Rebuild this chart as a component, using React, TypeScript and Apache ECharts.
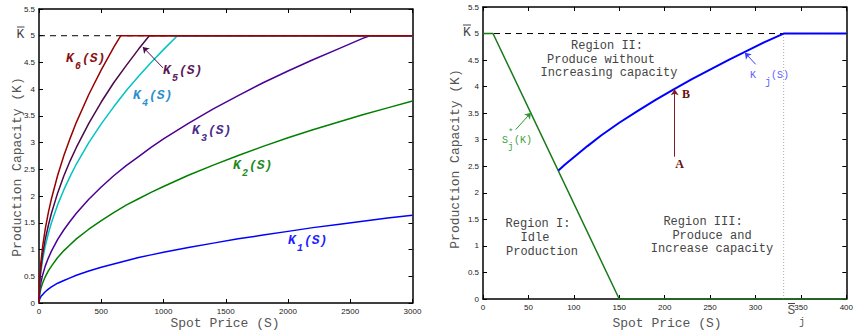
import React, { useEffect, useRef } from "react";
import * as echarts from "echarts";

// ---------- Left panel data ----------
const leftPrices = [0, 5, 15, 30, 50, 75, 100, 150, 200, 250, 300, 400, 500, 600, 700, 800, 900, 1000, 1200, 1400, 1600, 1800, 2000, 2200, 2400, 2600, 2800, 3000];
const k1Capacity = [0, 0.07, 0.12, 0.16, 0.21, 0.26, 0.30, 0.37, 0.42, 0.47, 0.52, 0.60, 0.67, 0.73, 0.79, 0.85, 0.90, 0.95, 1.04, 1.12, 1.20, 1.27, 1.34, 1.41, 1.47, 1.53, 1.59, 1.64];
const k2Capacity = [0, 0.15, 0.27, 0.38, 0.49, 0.60, 0.69, 0.85, 0.98, 1.09, 1.20, 1.38, 1.54, 1.69, 1.83, 1.95, 2.07, 2.18, 2.39, 2.58, 2.76, 2.93, 3.09, 3.24, 3.38, 3.52, 3.65, 3.78];
const k3Capacity = [0, 0.22, 0.38, 0.53, 0.69, 0.84, 0.97, 1.19, 1.37, 1.53, 1.68, 1.94, 2.17, 2.38, 2.57, 2.74, 2.91, 3.07, 3.36, 3.63, 3.88, 4.12, 4.34, 4.55, 4.75, 4.95, 5, 5];
const k4Capacity = [0, 0.34, 0.58, 0.82, 1.06, 1.30, 1.50, 1.84, 2.12, 2.37, 2.60, 3.00, 3.35, 3.67, 3.97, 4.24, 4.50, 4.74, 5, 5, 5, 5, 5, 5, 5, 5, 5, 5];
const k5Capacity = [0, 0.38, 0.65, 0.92, 1.19, 1.45, 1.68, 2.06, 2.38, 2.66, 2.91, 3.36, 3.76, 4.12, 4.44, 4.75, 5, 5, 5, 5, 5, 5, 5, 5, 5, 5, 5, 5];
const k6Capacity = [0, 0.44, 0.76, 1.07, 1.38, 1.69, 1.95, 2.39, 2.76, 3.08, 3.38, 3.90, 4.36, 4.78, 5, 5, 5, 5, 5, 5, 5, 5, 5, 5, 5, 5, 5, 5];
// price at which each curve reaches the capacity ceiling (null = never)
const capReachPrices = [null, null, 2657, 1111, 886, 657];
const capacityMax = 5;
const k5Arrow = [[995, 4.40], [834, 4.79]];

// ---------- Right panel data ----------
const sStarPrices = [0, 11, 150, 400];
const sStarCapacity = [5, 5, 0, 0];
const kjPrices = [83, 90, 100, 115, 130, 150, 170, 190, 210, 230, 250, 270, 290, 310, 331, 400];
const kjCapacity = [2.42, 2.53, 2.67, 2.88, 3.08, 3.32, 3.54, 3.75, 3.95, 4.14, 4.32, 4.50, 4.67, 4.84, 5, 5];
const sBarPrice = 331;
const abArrow = [[211, 2.68], [211, 3.95]];
const sStarArrow = [[36, 3.19], [52.8, 3.51]];
const kjArrow = [[300.2, 4.42], [288.3, 4.64]];

function pairs(xs: number[], ys: number[], cap: number | null) {
  const out = xs.map((x, i) => [x, ys[i]]);
  if (cap != null) {
    out.push([cap, capacityMax]);
    out.sort((a, b) => a[0] - b[0]);
  }
  return out;
}

const MONO = "Liberation Mono";
const SANS = "Liberation Sans";

function axis(gridIndex: number, min: number, max: number, interval: number, position: string, showLabel: boolean) {
  return {
    type: "value",
    gridIndex,
    min,
    max,
    interval,
    position,
    axisLine: { show: true, onZero: false, lineStyle: { color: "#000", width: 1.5 } },
    axisTick: { show: true, inside: true, length: 4, lineStyle: { color: "#000", width: 1 } },
    axisLabel: {
      show: showLabel,
      fontSize: 8,
      color: "#222",
      margin: 4,
      fontFamily: SANS,
      formatter: (v: number) => String(v),
    },
    splitLine: { show: false },
  };
}

function txt(x: number, y: number, text: string, font: string, fill: string, align = "left", extra: any = {}) {
  return {
    type: "text",
    x,
    y,
    silent: true,
    z: 100,
    ...extra,
    style: { text, font, fill, align, textAlign: align, verticalAlign: "middle", textVerticalAlign: "middle" },
  };
}

function kLabel(x: number, y: number, sub: string, color: string) {
  return [
    txt(x, y, "K", `italic bold 13px "${MONO}"`, color),
    txt(x + 9, y + 8, sub, `italic bold 10px "${MONO}"`, color),
    txt(x + 16, y, "(S)", `italic bold 13px "${MONO}"`, color),
  ];
}

function bar(x1: number, x2: number, y: number) {
  return { type: "line", silent: true, z: 100, shape: { x1, y1: y, x2, y2: y }, style: { stroke: "#444", lineWidth: 1 } };
}

function arrowMark(coords: number[][], color: string) {
  return {
    silent: true,
    symbol: ["none", "arrow"],
    symbolSize: 6,
    label: { show: false },
    lineStyle: { color, width: 1, type: "solid" },
    data: [[{ coord: coords[0] }, { coord: coords[1] }]],
  };
}

function lineSeries(grid: number, data: any, color: string, width: number, extra: any = {}) {
  return {
    type: "line",
    xAxisIndex: grid * 2,
    yAxisIndex: grid * 2,
    data,
    symbol: "none",
    showSymbol: false,
    silent: true,
    lineStyle: { color, width },
    ...extra,
  };
}

const REGION_FONT = `12px "${MONO}"`;
const REGION_COLOR = "#444";
const LH = 13.6;

export default function App() {
  const ref = useRef<HTMLDivElement>(null);
  useEffect(() => {
    if (!ref.current) return;
    const chart = echarts.init(ref.current, undefined, { renderer: "svg" });
    const leftCaps = [k1Capacity, k2Capacity, k3Capacity, k4Capacity, k5Capacity, k6Capacity];
    const leftColors = ["#0000ff", "#008000", "#4b0096", "#00c4c4", "#4a0a4a", "#990000"];
    const greyName = "#555";
    const option: any = {
      animation: false,
      grid: [
        { left: 39, top: 9, width: 373.5, height: 294 },
        { left: 483, top: 7, width: 370, height: 292 },
      ],
      xAxis: [
        axis(0, 0, 3000, 500, "bottom", true),
        axis(0, 0, 3000, 500, "top", false),
        axis(1, 0, 400, 50, "bottom", true),
        axis(1, 0, 400, 50, "top", false),
      ],
      yAxis: [
        axis(0, 0, 5.5, 0.5, "left", true),
        axis(0, 0, 5.5, 0.5, "right", false),
        axis(1, 0, 5.5, 0.5, "left", true),
        axis(1, 0, 5.5, 0.5, "right", false),
      ],
      series: [
        lineSeries(0, [[0, capacityMax], [3000, capacityMax]], "#000", 1, { lineStyle: { color: "#000", width: 1, type: [6, 5] } }),
        ...leftCaps.map((caps, i) =>
          lineSeries(0, pairs(leftPrices, caps, capReachPrices[i]), leftColors[i], 1.5,
            i === 4 ? { markLine: arrowMark(k5Arrow, "#4a0a4a") } : {})
        ),
        lineSeries(1, [[0, capacityMax], [400, capacityMax]], "#000", 1, { lineStyle: { color: "#000", width: 1, type: [6, 5] } }),
        lineSeries(1, [[sBarPrice, 0], [sBarPrice, capacityMax]], "#aaa", 1, { lineStyle: { color: "#aaa", width: 1, type: [1, 2] } }),
        lineSeries(1, pairs(sStarPrices, sStarCapacity, null), "#1a7a1a", 1.5, { markLine: arrowMark(sStarArrow, "#2a9a2a") }),
        lineSeries(1, pairs(kjPrices, kjCapacity, null), "#0000ff", 2, { markLine: arrowMark(kjArrow, "#3a3aff") }),
        lineSeries(1, [], "#000", 1, { markLine: arrowMark(abArrow, "#7a2020") }),
      ],
      graphic: [
        // axis names
        txt(17, 167, "Production Capacity (K)", `13px "${MONO}"`, greyName, "center", { rotation: Math.PI / 2 }),
        txt(225, 323, "Spot Price (S)", `13px "${MONO}"`, greyName, "center"),
        txt(455, 159, "Production Capacity (K)", `13px "${MONO}"`, greyName, "center", { rotation: Math.PI / 2 }),
        txt(667, 323, "Spot Price (S)", `13px "${MONO}"`, greyName, "center"),
        // K bar labels
        txt(20.5, 34, "K", `13px "${MONO}"`, "#444", "center"),
        bar(17, 24.5, 27),
        txt(467, 32, "K", `13px "${MONO}"`, "#444", "center"),
        bar(463, 471, 25),
        // S bar j
        txt(791.5, 310, "S", `13px "${MONO}"`, "#555", "center"),
        bar(788, 795, 303.5),
        txt(799, 322, "j", `10px "${MONO}"`, "#555"),
        // left curve labels
        ...kLabel(66, 58, "6", "#8b1010"),
        ...kLabel(163, 70, "5", "#5a1a5a"),
        ...kLabel(133, 95, "4", "#2a90d0"),
        ...kLabel(192, 130, "3", "#4b2c8c"),
        ...kLabel(233, 165, "2", "#1e8a1e"),
        ...kLabel(288, 240, "1", "#1e1eff"),
        // right panel region texts
        txt(607, 59.5 - LH, "Region II:", REGION_FONT, REGION_COLOR, "center"),
        txt(601, 59.5, "Produce without", REGION_FONT, REGION_COLOR, "center"),
        txt(609, 59.5 + LH, "Increasing capacity", REGION_FONT, REGION_COLOR, "center"),
        txt(538, 238 - LH, "Region I:", REGION_FONT, REGION_COLOR, "center"),
        txt(535, 238, "Idle", REGION_FONT, REGION_COLOR, "center"),
        txt(542, 238 + LH, "Production", REGION_FONT, REGION_COLOR, "center"),
        txt(703, 235.5 - LH, "Region III:", REGION_FONT, REGION_COLOR, "center"),
        txt(712, 235.5, "Produce and", REGION_FONT, REGION_COLOR, "center"),
        txt(712, 235.5 + LH, "Increase capacity", REGION_FONT, REGION_COLOR, "center"),
        // S*_j(K) label
        txt(502, 140, "S", `10px "${MONO}"`, "#3aa03a"),
        txt(508, 133, "*", `9px "${MONO}"`, "#3aa03a"),
        txt(508, 147, "j", `9px "${MONO}"`, "#3aa03a"),
        txt(514, 140, "(K)", `10px "${MONO}"`, "#3aa03a"),
        // K_j(S) label
        txt(750, 75, "K", `10px "${MONO}"`, "#5a5aff"),
        txt(765, 82, "j", `10px "${MONO}"`, "#5a5aff"),
        txt(771, 75, "(S)", `10px "${MONO}"`, "#5a5aff"),
        // A / B
        txt(679.5, 164, "A", `bold 12px "Liberation Serif"`, "#6b0f0f", "center"),
        txt(682, 94, "B", `bold 12px "Liberation Serif"`, "#6b0f0f"),
      ],
    };
    chart.setOption(option);
    return () => chart.dispose();
  }, []);
  return <div ref={ref} style={{ position: "fixed", left: 0, top: 0, width: 856, height: 335, background: "#fff" }} />;
}
